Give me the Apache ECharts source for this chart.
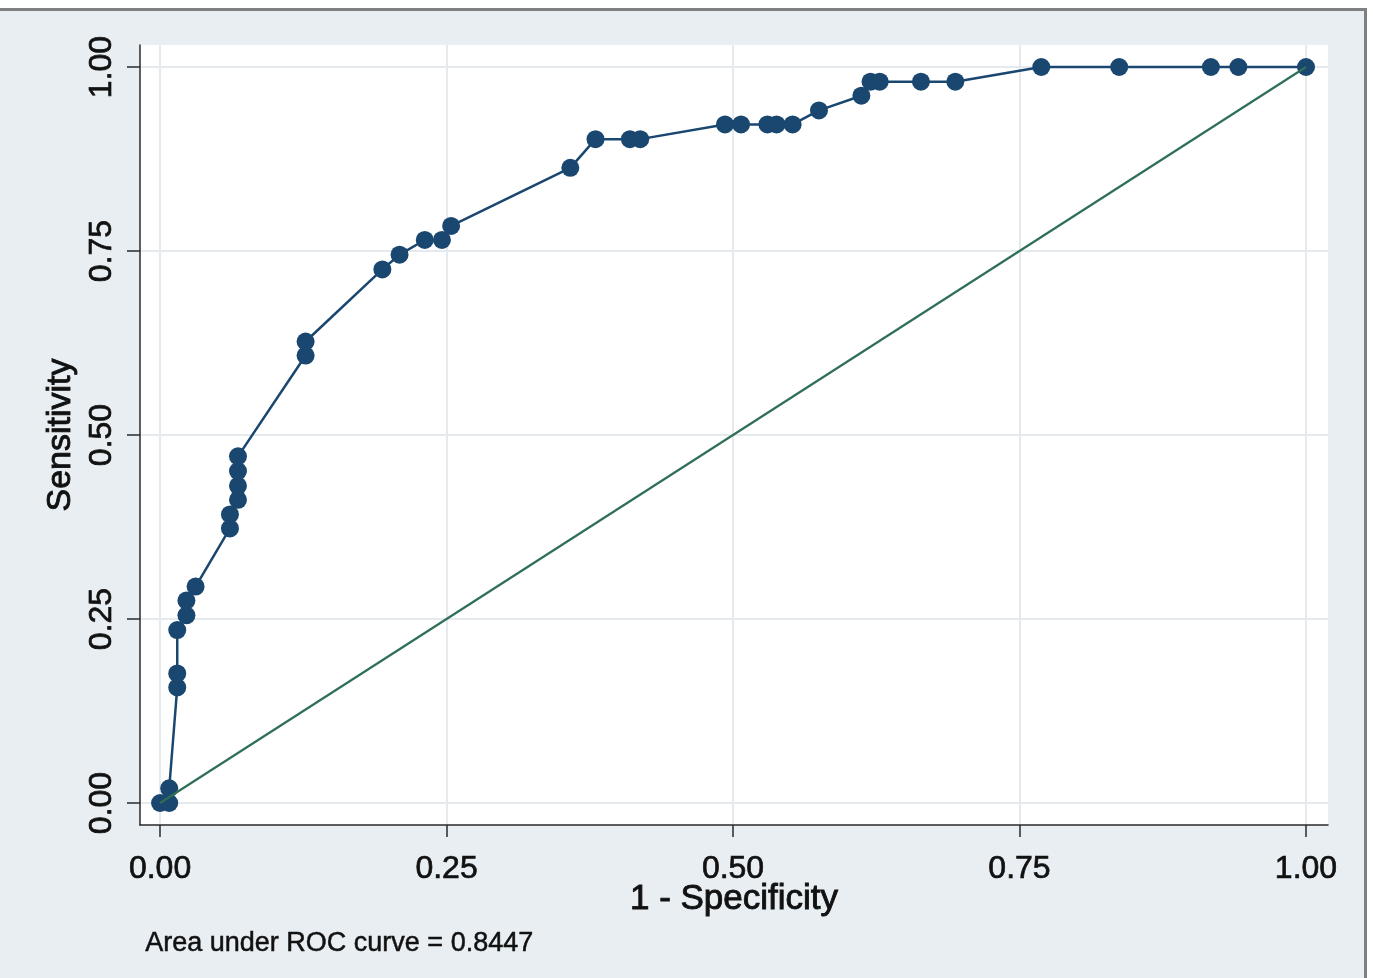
<!DOCTYPE html>
<html><head><meta charset="utf-8">
<script src="https://cdn.jsdelivr.net/npm/echarts@6/dist/echarts.min.js"></script>
<style>
html,body{margin:0;padding:0;background:#fff;overflow:hidden;}
#frame{position:absolute;left:0;top:8px;width:1364px;height:970px;background:#e8eef1;border-top:3px solid #808080;border-right:3px solid #808080;}
#chart{position:absolute;left:0;top:0;width:1373px;height:978px;}
</style></head><body>
<div id="frame"></div>
<div id="chart"></div>
<script>
// 1 - Specificity (false positive rate) for each ROC point
var fpr = [0, 0.008, 0.008, 0.015, 0.015, 0.015, 0.023, 0.023, 0.031, 0.061, 0.061,
  0.068, 0.068, 0.068, 0.068, 0.127, 0.127, 0.194, 0.209, 0.231, 0.246, 0.254,
  0.358, 0.380, 0.410, 0.419, 0.493, 0.507, 0.530, 0.538, 0.552, 0.575, 0.612,
  0.620, 0.628, 0.664, 0.694, 0.769, 0.837, 0.917, 0.941, 1.0];
// Sensitivity for each ROC point
var sensitivity = [0, 0, 0.020, 0.157, 0.176, 0.235, 0.255, 0.275, 0.294, 0.373, 0.392,
  0.412, 0.431, 0.451, 0.471, 0.608, 0.627, 0.725, 0.745, 0.765, 0.765, 0.784,
  0.863, 0.902, 0.902, 0.902, 0.922, 0.922, 0.922, 0.922, 0.922, 0.941, 0.961,
  0.980, 0.980, 0.980, 0.980, 1.0, 1.0, 1.0, 1.0, 1.0];
// Reference (chance) line
var refX = [0, 1];
var refY = [0, 1];
// Tick values
var xTicks = [0, 0.25, 0.5, 0.75, 1];
var yTicks = [0, 0.25, 0.5, 0.75, 1];
var xTitle = '1 - Specificity';
var yTitle = 'Sensitivity';
var note = 'Area under ROC curve = 0.8447';

var FONT = "'Liberation Sans', Arial, Helvetica, sans-serif";
var TXT = '#111';
var rocData = fpr.map(function (x, i) { return [x, sensitivity[i]]; });
var refData = refX.map(function (x, i) { return [x, refY[i]]; });
var gridMarks = xTicks.map(function (v) { return { xAxis: v }; })
  .concat(yTicks.map(function (v) { return { yAxis: v }; }));

var chart = echarts.init(document.getElementById('chart'), null, { renderer: 'canvas' });
chart.setOption({
  backgroundColor: 'transparent',
  animation: false,
  grid: { left: 140, right: 45, top: 45, bottom: 153, show: true, backgroundColor: '#ffffff', borderWidth: 0 },
  xAxis: {
    type: 'value', min: -0.0175, max: 1.0192,
    axisLine: { show: true, onZero: false, lineStyle: { color: '#2a2a2a', width: 1.5 } },
    axisTick: { show: true, customValues: xTicks, length: 12, lineStyle: { color: '#2a2a2a', width: 1.5 } },
    axisLabel: { customValues: xTicks, fontSize: 32, color: TXT, fontFamily: FONT, margin: 28,
      textBorderColor: TXT, textBorderWidth: 0.7,
      formatter: function (v) { return v.toFixed(2); } },
    splitLine: { show: false },
    name: xTitle, nameLocation: 'middle', nameGap: 57, nameMoveOverlap: false,
    nameTextStyle: { fontSize: 35, color: TXT, fontFamily: FONT, textBorderColor: TXT, textBorderWidth: 0.9 }
  },
  yAxis: {
    type: 'value', min: -0.0299, max: 1.0299,
    axisLine: { show: true, onZero: false, lineStyle: { color: '#2a2a2a', width: 1.5 } },
    axisTick: { show: true, customValues: yTicks, length: 13, lineStyle: { color: '#2a2a2a', width: 1.5 } },
    axisLabel: { customValues: yTicks, fontSize: 32, color: TXT, fontFamily: FONT, margin: 22, rotate: 90,
      textBorderColor: TXT, textBorderWidth: 0.7,
      formatter: function (v) { return v.toFixed(2); } },
    splitLine: { show: false },
    name: yTitle, nameLocation: 'middle', nameGap: 62, nameRotate: 90, nameMoveOverlap: false,
    nameTextStyle: { fontSize: 34, color: TXT, fontFamily: FONT, textBorderColor: TXT, textBorderWidth: 0.9 }
  },
  series: [
    {
      type: 'line', data: [], silent: true, z: 0,
      markLine: {
        silent: true, symbol: 'none', animation: false, z: 0,
        label: { show: false },
        lineStyle: { color: '#e4eaed', width: 2, type: 'solid' },
        data: gridMarks
      }
    },
    {
      type: 'line', data: rocData, z: 10,
      symbol: 'circle', symbolSize: 18, showAllSymbol: true,
      lineStyle: { color: '#1a476f', width: 2.5 },
      itemStyle: { color: '#1a476f' }
    },
    {
      type: 'line', data: refData, z: 11, symbol: 'none',
      lineStyle: { color: '#2f6f57', width: 2.2 }
    }
  ],
  graphic: [
    { type: 'text', left: 145, top: 930, z: 20,
      style: { text: note, fontSize: 27, fill: TXT, fontFamily: FONT, stroke: TXT, lineWidth: 0.5 } }
  ]
});
</script>
</body></html>
